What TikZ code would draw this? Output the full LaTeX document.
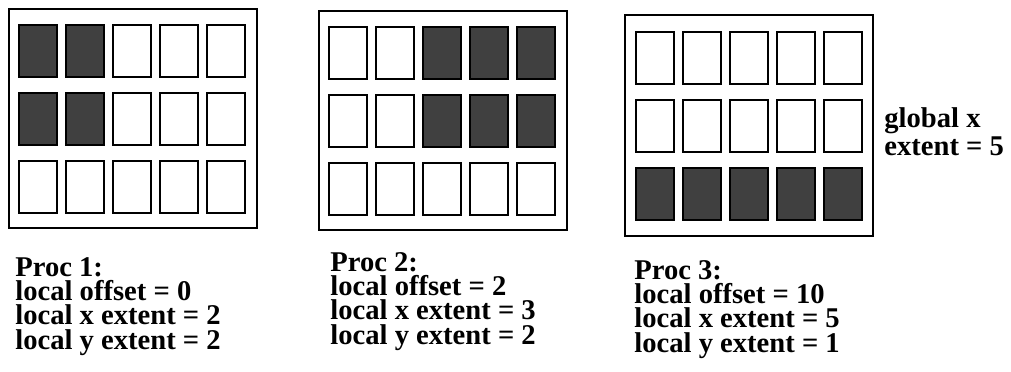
\documentclass[tikz,border=0pt]{standalone}
\usepackage{fontspec}
\setmainfont{Liberation Serif}
\usepackage{tikz}
\usetikzlibrary{positioning}

\definecolor{cellgray}{HTML}{404040}

\tikzset{
    procframe/.style={draw, line width=0.75pt},
    cell/.style={draw, line width=0.6pt, fill=white},
    busycell/.style={draw, line width=0.6pt, fill=cellgray},
    proctext/.style={anchor=base west, inner sep=0pt, align=left,
        font=\bfseries\fontsize{14.3}{12.1}\selectfont}
}

\begin{document}
\begin{tikzpicture}[x=0.5pt, y=-0.5pt]
    \useasboundingbox (0,0) rectangle (1011,371);

    % proc 1
    \begin{scope}[shift={(9,9)}]
        \draw[procframe] (0,0) rectangle (248,219);
        \foreach \i in {0,...,4}
            \foreach \j in {0,...,2}
                \draw[cell] (10+47*\i,16+68*\j) rectangle ++(38,52);
        \foreach \i/\j in {0/0,1/0,0/1,1/1}
            \draw[busycell] (10+47*\i,16+68*\j) rectangle ++(38,52);
    \end{scope}

    % proc 2
    \begin{scope}[shift={(319,11)}]
        \draw[procframe] (0,0) rectangle (248,219);
        \foreach \i in {0,...,4}
            \foreach \j in {0,...,2}
                \draw[cell] (10+47*\i,16+68*\j) rectangle ++(38,52);
        \foreach \i/\j in {2/0,3/0,4/0,2/1,3/1,4/1}
            \draw[busycell] (10+47*\i,16+68*\j) rectangle ++(38,52);
    \end{scope}

    % proc 3
    \begin{scope}[shift={(625,15)}]
        \draw[procframe] (0,0) rectangle (248,221);
        \foreach \i in {0,...,4}
            \foreach \j in {0,...,2}
                \draw[cell] (11+47*\i,17+68*\j) rectangle ++(38,52);
        \foreach \i in {0,...,4}
            \draw[busycell] (11+47*\i,17+68*2) rectangle ++(38,52);
    \end{scope}

    % base = last line
    \node[proctext] (info1) at (15,349)
        {Proc 1:\\local offset = 0\\local x extent = 2\\local y extent = 2};
    \node[proctext] (info2) at (330,344)
        {Proc 2:\\local offset = 2\\local x extent = 3\\local y extent = 2};
    \node[proctext] (info3) at (634,352)
        {Proc 3:\\local offset = 10\\local x extent = 5\\local y extent = 1};

    \node[proctext] (globalx) at (884,155) {global x\\extent = 5};
\end{tikzpicture}
\end{document}
